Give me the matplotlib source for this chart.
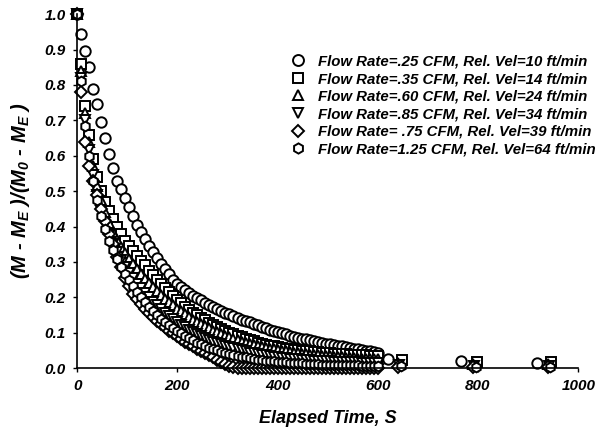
import numpy as np
import matplotlib
matplotlib.use("Agg")
import matplotlib.pyplot as plt

# bold italic Arial-like text everywhere, also inside mathtext
plt.rcParams['font.family'] = 'Liberation Sans'
plt.rcParams['font.weight'] = 'bold'
plt.rcParams['font.style'] = 'italic'
plt.rcParams['axes.labelweight'] = 'bold'
plt.rcParams['mathtext.fontset'] = 'custom'
plt.rcParams['mathtext.rm'] = 'Liberation Sans:bold:italic'
plt.rcParams['mathtext.it'] = 'Liberation Sans:bold:italic'
plt.rcParams['mathtext.bf'] = 'Liberation Sans:bold:italic'

# readings every 8 s up to 600 s
time = list(range(0, 601, 8))

# moisture ratio, one row = 40 s
mr_025 = [1.000, 0.945, 0.895, 0.850, 0.790,
          0.745, 0.695, 0.650, 0.605, 0.565,
          0.530, 0.505, 0.480, 0.455, 0.430,
          0.405, 0.385, 0.365, 0.345, 0.328,
          0.310, 0.295, 0.280, 0.265, 0.250,
          0.237, 0.228, 0.220, 0.212, 0.205,
          0.198, 0.191, 0.184, 0.178, 0.172,
          0.167, 0.162, 0.157, 0.152, 0.147,
          0.142, 0.137, 0.133, 0.129, 0.125,
          0.121, 0.117, 0.113, 0.109, 0.105,
          0.101, 0.098, 0.095, 0.092, 0.089,
          0.086, 0.083, 0.081, 0.078, 0.076,
          0.074, 0.071, 0.069, 0.067, 0.065,
          0.063, 0.061, 0.059, 0.057, 0.055,
          0.053, 0.051, 0.049, 0.047, 0.045,
          0.044]
mr_035 = [1.000, 0.860, 0.740, 0.660, 0.590,
          0.540, 0.500, 0.470, 0.445, 0.420,
          0.400, 0.380, 0.360, 0.345, 0.330,
          0.316, 0.303, 0.290, 0.275, 0.262,
          0.250, 0.238, 0.226, 0.214, 0.203,
          0.193, 0.183, 0.174, 0.165, 0.157,
          0.149, 0.142, 0.135, 0.128, 0.122,
          0.116, 0.110, 0.105, 0.100, 0.095,
          0.091, 0.087, 0.083, 0.079, 0.076,
          0.072, 0.069, 0.066, 0.063, 0.061,
          0.059, 0.057, 0.055, 0.054, 0.052,
          0.051, 0.049, 0.048, 0.047, 0.046,
          0.045, 0.044, 0.043, 0.042, 0.041,
          0.040, 0.040, 0.039, 0.038, 0.038,
          0.037, 0.036, 0.036, 0.035, 0.035,
          0.034]
mr_060 = [1.000, 0.840, 0.720, 0.640, 0.570,
          0.515, 0.475, 0.440, 0.410, 0.385,
          0.362, 0.342, 0.324, 0.308, 0.293,
          0.279, 0.265, 0.252, 0.240, 0.228,
          0.217, 0.206, 0.196, 0.186, 0.177,
          0.168, 0.160, 0.152, 0.144, 0.137,
          0.130, 0.124, 0.118, 0.112, 0.106,
          0.101, 0.096, 0.091, 0.087, 0.083,
          0.079, 0.075, 0.072, 0.069, 0.066,
          0.063, 0.060, 0.058, 0.055, 0.053,
          0.051, 0.049, 0.047, 0.045, 0.044,
          0.042, 0.041, 0.039, 0.038, 0.037,
          0.036, 0.035, 0.034, 0.033, 0.032,
          0.031, 0.030, 0.029, 0.029, 0.028,
          0.027, 0.027, 0.026, 0.026, 0.025,
          0.025]
mr_085 = [1.000, 0.820, 0.700, 0.615, 0.545,
          0.490, 0.445, 0.405, 0.375, 0.350,
          0.327, 0.306, 0.287, 0.270, 0.254,
          0.239, 0.225, 0.212, 0.200, 0.188,
          0.177, 0.167, 0.157, 0.148, 0.139,
          0.131, 0.123, 0.116, 0.109, 0.102,
          0.096, 0.090, 0.085, 0.080, 0.075,
          0.071, 0.067, 0.063, 0.059, 0.056,
          0.053, 0.050, 0.047, 0.044, 0.042,
          0.040, 0.038, 0.036, 0.034, 0.032,
          0.031, 0.029, 0.028, 0.027, 0.026,
          0.025, 0.024, 0.023, 0.022, 0.021,
          0.021, 0.020, 0.019, 0.019, 0.018,
          0.018, 0.017, 0.017, 0.016, 0.016,
          0.016, 0.015, 0.015, 0.015, 0.014,
          0.014]
mr_075 = [1.000, 0.780, 0.640, 0.570, 0.530,
          0.490, 0.450, 0.415, 0.380, 0.350,
          0.315, 0.285, 0.255, 0.232, 0.210,
          0.194, 0.180, 0.166, 0.155, 0.144,
          0.134, 0.124, 0.115, 0.106, 0.098,
          0.090, 0.082, 0.075, 0.068, 0.061,
          0.054, 0.048, 0.042, 0.036, 0.030,
          0.024, 0.018, 0.012, 0.007, 0.003,
          0.000, 0.000, 0.000, 0.000, 0.000,
          0.000, 0.000, 0.000, 0.000, 0.000,
          0.000, 0.000, 0.000, 0.000, 0.000,
          0.000, 0.000, 0.000, 0.000, 0.000,
          0.000, 0.000, 0.000, 0.000, 0.000,
          0.000, 0.000, 0.000, 0.000, 0.000,
          0.000, 0.000, 0.000, 0.000, 0.000,
          0.000]
mr_125 = [1.000, 0.810, 0.685, 0.600, 0.530,
          0.475, 0.430, 0.392, 0.360, 0.333,
          0.308, 0.286, 0.266, 0.248, 0.231,
          0.215, 0.200, 0.186, 0.173, 0.161,
          0.150, 0.140, 0.130, 0.121, 0.113,
          0.105, 0.098, 0.091, 0.084, 0.078,
          0.072, 0.067, 0.062, 0.058, 0.054,
          0.050, 0.046, 0.043, 0.040, 0.037,
          0.034, 0.032, 0.030, 0.028, 0.026,
          0.024, 0.022, 0.021, 0.020, 0.019,
          0.018, 0.017, 0.016, 0.015, 0.014,
          0.013, 0.013, 0.012, 0.012, 0.011,
          0.011, 0.010, 0.010, 0.010, 0.009,
          0.009, 0.009, 0.008, 0.008, 0.008,
          0.008, 0.007, 0.007, 0.007, 0.007,
          0.007]

# late readings after 600 s
late_t = {
    '025': [620, 765, 918],
    '035': [648, 798, 946],
    '060': [640, 790, 940],
    '085': [642, 792, 942],
    '075': [640, 790, 940],
    '125': [646, 796, 944],
}
late_mr = {
    '025': [0.025, 0.020, 0.015],
    '035': [0.022, 0.018, 0.016],
    '060': [0.015, 0.012, 0.012],
    '085': [0.008, 0.007, 0.007],
    '075': [0.002, 0.002, 0.002],
    '125': [0.005, 0.004, 0.004],
}

labels = ['Flow Rate=.25 CFM, Rel. Vel=10 ft/min',
          'Flow Rate=.35 CFM, Rel. Vel=14 ft/min',
          'Flow Rate=.60 CFM, Rel. Vel=24 ft/min',
          'Flow Rate=.85 CFM, Rel. Vel=34 ft/min',
          'Flow Rate= .75 CFM, Rel. Vel=39 ft/min',
          'Flow Rate=1.25 CFM, Rel. Vel=64 ft/min']
keys = ['025', '035', '060', '085', '075', '125']
series = [mr_025, mr_035, mr_060, mr_085, mr_075, mr_125]
markers = ['o', 's', '^', 'v', 'D', 'h']
sizes = [7.5, 6.5, 7, 7, 6.2, 7]

fig = plt.figure(figsize=(5.98, 4.30), dpi=100)
ax = fig.add_axes([0.129, 0.144, 0.838, 0.823])

for k, y, m, ms, lab in zip(keys, series, markers, sizes, labels):
    t = time + late_t[k]
    v = y + late_mr[k]
    ax.plot(t, v, linestyle='none', marker=m, markersize=ms,
            markerfacecolor='white', markeredgecolor='black',
            markeredgewidth=1.4, label=lab, clip_on=False)

ax.set_xlim(0, 1000)
ax.set_ylim(0, 1.0)
ax.set_xticks([0, 200, 400, 600, 800, 1000])
ax.set_yticks(np.arange(0, 1.01, 0.1))
ax.set_yticklabels(['%.1f' % v for v in np.arange(0, 1.01, 0.1)])
ax.spines['top'].set_visible(False)
ax.spines['right'].set_visible(False)
ax.spines['left'].set_linewidth(1.2)
ax.spines['bottom'].set_linewidth(1.2)
ax.tick_params(direction='out', length=3, width=1, labelsize=11, pad=5)

ax.set_xlabel('Elapsed Time, S', fontsize=13, fontweight='bold', labelpad=12)
ax.set_ylabel('(M - M$_E$ )/(M$_0$ - M$_E$ )', fontsize=14.5,
              fontweight='bold', labelpad=9)

leg = ax.legend(loc='upper left', bbox_to_anchor=(283 / 598, 1 - 47 / 430),
                bbox_transform=fig.transFigure, frameon=False,
                fontsize=10.8, handletextpad=0.8, labelspacing=0.24,
                borderpad=0, handlelength=1.0, markerscale=1.05)

fig.savefig('out.png', dpi=100)
